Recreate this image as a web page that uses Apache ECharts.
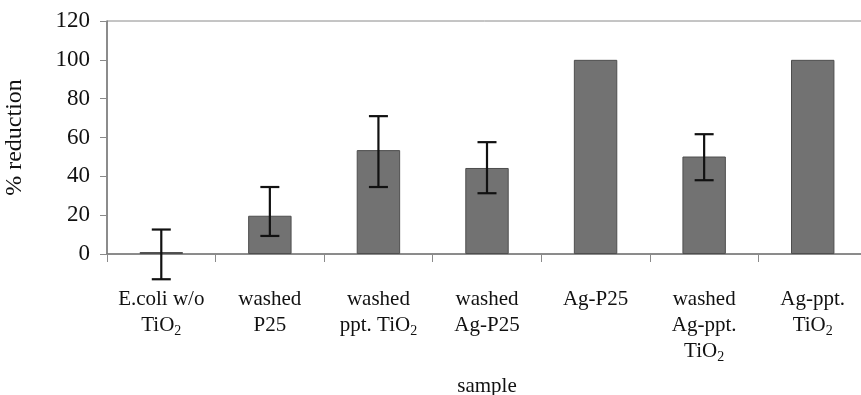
<!DOCTYPE html>
<html>
<head>
<meta charset="utf-8">
<script src="https://cdn.jsdelivr.net/npm/echarts@6/dist/echarts.min.js"></script>
<style>html,body{margin:0;padding:0;background:#fff}#c{width:861px;height:395px}</style>
</head>
<body>
<div id="c"></div>
<script>
var categories = ['E.coli w/o\nTiO2', 'washed\nP25', 'washed\nppt. TiO2', 'washed\nAg-P25', 'Ag-P25', 'washed\nAg-ppt.\nTiO2', 'Ag-ppt.\nTiO2'];
var values = [1, 19.7, 53.5, 44.3, 100, 50.2, 100];
var errLow = [-13, 9.3, 34.5, 31.3, null, 38, null];
var errHigh = [12.6, 34.5, 71, 57.6, null, 61.7, null];
var yTicks = {min: 0, max: 120, interval: 20};

var errData = [];
for (var i = 0; i < categories.length; i++) {
  if (errLow[i] !== null) errData.push([i, errLow[i], errHigh[i]]);
}

var font = 'Liberation Serif, Times New Roman, serif';
var chart = echarts.init(document.getElementById('c'));
chart.setOption({
  animation: false,
  grid: {left: 107, top: 21, width: 760, height: 233, containLabel: false, outerBoundsMode: 'none', show: true, borderColor: '#8a8a8a', borderWidth: 1, backgroundColor: 'transparent'},
  xAxis: {
    type: 'category',
    data: categories,
    name: 'sample',
    nameLocation: 'middle',
    nameGap: 122,
    nameTextStyle: {fontFamily: font, fontSize: 21, color: '#111'},
    axisLine: {lineStyle: {color: '#7a7a7a', width: 1.5}},
    axisTick: {show: true, length: 8, lineStyle: {color: '#8a8a8a'}},
    axisLabel: {
      interval: 0,
      margin: 32,
      fontFamily: font,
      fontSize: 21,
      lineHeight: 26,
      color: '#111',
      formatter: function (v) { return v.replace('TiO2', 'TiO{s|2}'); },
      rich: {s: {fontFamily: font, fontSize: 14, lineHeight: 26, verticalAlign: 'bottom', padding: [16, 0, 0, 0], color: '#111'}}
    }
  },
  yAxis: {
    type: 'value',
    min: yTicks.min, max: yTicks.max, interval: yTicks.interval,
    name: '% reduction',
    nameLocation: 'middle',
    nameGap: 80,
    nameTextStyle: {fontFamily: font, fontSize: 24, color: '#111'},
    axisLine: {show: true, lineStyle: {color: '#7a7a7a', width: 1.5}},
    axisTick: {show: true, length: 7, lineStyle: {color: '#8a8a8a'}},
    splitLine: {show: false},
    axisLabel: {fontFamily: font, fontSize: 23, color: '#111', margin: 17}
  },
  series: [
    {
      type: 'bar',
      data: values,
      barWidth: '40%',
      itemStyle: {color: '#727272', borderColor: '#4e4e4e', borderWidth: 1}
    },
    {
      type: 'custom',
      data: errData,
      z: 10,
      renderItem: function (params, api) {
        var x = api.value(0);
        var lo = api.coord([x, api.value(1)]);
        var hi = api.coord([x, api.value(2)]);
        var w = 9.5;
        var st = {stroke: '#111', lineWidth: 2.2};
        return {
          type: 'group',
          children: [
            {type: 'line', shape: {x1: lo[0], y1: lo[1], x2: hi[0], y2: hi[1]}, style: st},
            {type: 'line', shape: {x1: lo[0] - w, y1: lo[1], x2: lo[0] + w, y2: lo[1]}, style: st},
            {type: 'line', shape: {x1: hi[0] - w, y1: hi[1], x2: hi[0] + w, y2: hi[1]}, style: st}
          ]
        };
      }
    }
  ]
});
</script>
</body>
</html>
